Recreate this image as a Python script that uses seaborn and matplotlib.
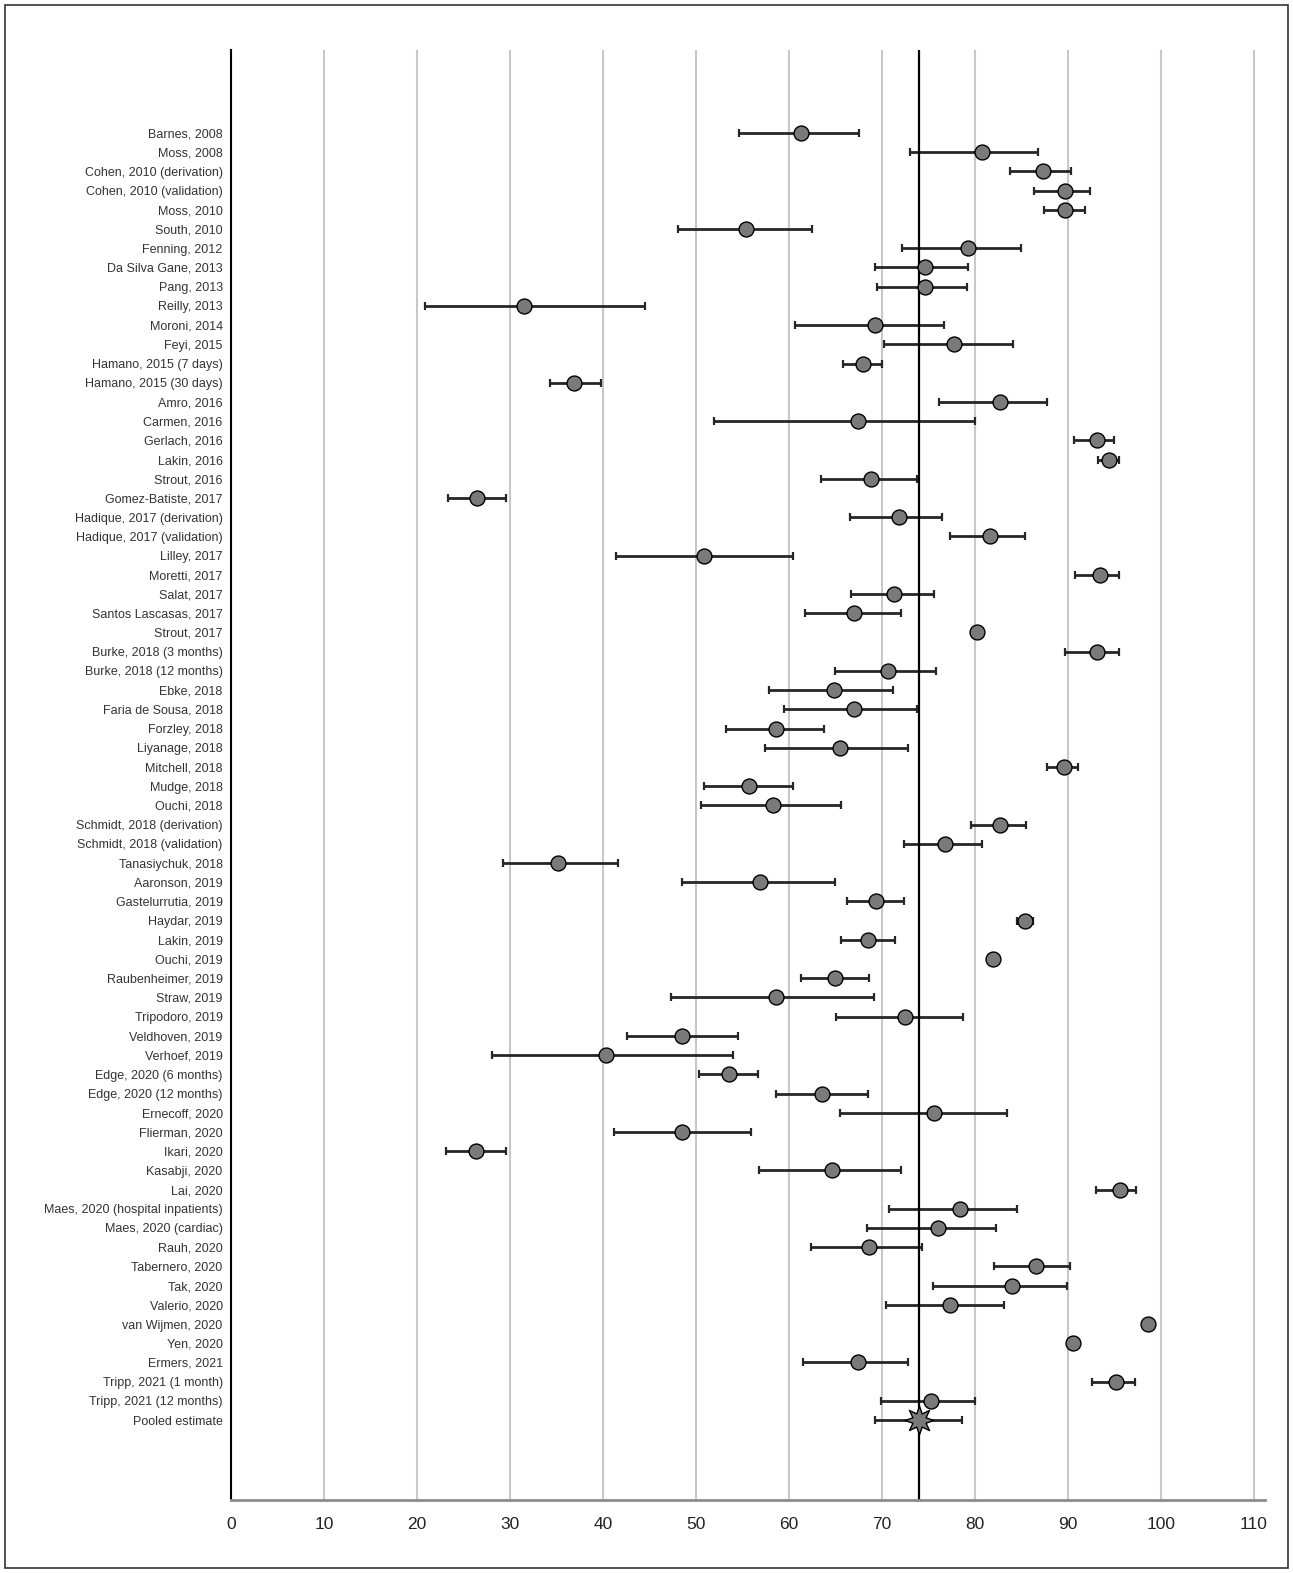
import matplotlib
matplotlib.use('Agg')
import matplotlib.pyplot as plt
import seaborn as sns
import pandas as pd
from matplotlib.patches import Rectangle

# study labels, top to bottom
studies = [
    'Barnes, 2008', 'Moss, 2008', 'Cohen, 2010 (derivation)', 'Cohen, 2010 (validation)',
    'Moss, 2010', 'South, 2010', 'Fenning, 2012', 'Da Silva Gane, 2013', 'Pang, 2013',
    'Reilly, 2013', 'Moroni, 2014', 'Feyi, 2015', 'Hamano, 2015 (7 days)',
    'Hamano, 2015 (30 days)', 'Amro, 2016', 'Carmen, 2016', 'Gerlach, 2016', 'Lakin, 2016',
    'Strout, 2016', 'Gomez-Batiste, 2017', 'Hadique, 2017 (derivation)',
    'Hadique, 2017 (validation)', 'Lilley, 2017', 'Moretti, 2017', 'Salat, 2017',
    'Santos Lascasas, 2017', 'Strout, 2017', 'Burke, 2018 (3 months)',
    'Burke, 2018 (12 months)', 'Ebke, 2018', 'Faria de Sousa, 2018', 'Forzley, 2018',
    'Liyanage, 2018', 'Mitchell, 2018', 'Mudge, 2018', 'Ouchi, 2018',
    'Schmidt, 2018 (derivation)', 'Schmidt, 2018 (validation)', 'Tanasiychuk, 2018',
    'Aaronson, 2019', 'Gastelurrutia, 2019', 'Haydar, 2019', 'Lakin, 2019', 'Ouchi, 2019',
    'Raubenheimer, 2019', 'Straw, 2019', 'Tripodoro, 2019', 'Veldhoven, 2019',
    'Verhoef, 2019', 'Edge, 2020 (6 months)', 'Edge, 2020 (12 months)', 'Ernecoff, 2020',
    'Flierman, 2020', 'Ikari, 2020', 'Kasabji, 2020', 'Lai, 2020',
    'Maes, 2020 (hospital inpatients)', 'Maes, 2020 (cardiac)', 'Rauh, 2020',
    'Tabernero, 2020', 'Tak, 2020', 'Valerio, 2020', 'van Wijmen, 2020', 'Yen, 2020',
    'Ermers, 2021', 'Tripp, 2021 (1 month)', 'Tripp, 2021 (12 months)',
]

estimate = [
    61.3, 80.8, 87.3, 89.7, 89.7, 55.4, 79.3, 74.6, 74.6, 31.5, 69.2, 77.8, 68.0, 36.9,
    82.7, 67.4, 93.1, 94.4, 68.8, 26.4, 71.8, 81.6, 50.9, 93.5, 71.3, 67.0, 80.2, 93.1,
    70.6, 64.8, 67.0, 58.6, 65.5, 89.6, 55.7, 58.3, 82.7, 76.8, 35.2, 56.9, 69.4, 85.4,
    68.5, 81.9, 65.0, 58.6, 72.5, 48.5, 40.3, 53.5, 63.6, 75.6, 48.5, 26.3, 64.6, 95.6,
    78.4, 76.0, 68.6, 86.6, 84.0, 77.3, 98.6, 90.5, 67.4, 95.2, 75.3,
]

ci_low = [
    54.6, 73.0, 83.8, 86.3, 87.4, 48.1, 72.2, 69.2, 69.5, 20.9, 60.7, 70.2, 65.8, 34.3,
    76.1, 51.9, 90.7, 93.2, 63.4, 23.3, 66.6, 77.3, 41.4, 90.8, 66.7, 61.7, 79.8, 89.7,
    65.0, 57.9, 59.5, 53.2, 57.4, 87.8, 50.9, 50.5, 79.6, 72.4, 29.2, 48.5, 66.2, 84.5,
    65.6, 81.9, 61.3, 47.3, 65.1, 42.6, 28.1, 50.3, 58.6, 65.5, 41.2, 23.1, 56.8, 93.0,
    70.8, 68.4, 62.4, 82.0, 75.5, 70.4, 98.6, 90.5, 61.5, 92.6, 69.9,
]

ci_high = [
    67.5, 86.8, 90.3, 92.4, 91.8, 62.5, 85.0, 79.3, 79.1, 44.5, 76.7, 84.1, 70.0, 39.8,
    87.7, 80.0, 95.0, 95.5, 73.8, 29.6, 76.5, 85.4, 60.4, 95.5, 75.6, 72.1, 80.7, 95.5,
    75.8, 71.2, 73.8, 63.8, 72.8, 91.1, 60.4, 65.6, 85.5, 80.8, 41.6, 64.9, 72.4, 86.2,
    71.4, 81.9, 68.6, 69.1, 78.7, 54.5, 54.0, 56.7, 68.5, 83.4, 55.9, 29.6, 72.0, 97.3,
    84.5, 82.3, 74.3, 90.2, 89.9, 83.1, 98.6, 90.5, 72.8, 97.2, 80.0,
]

pooled_label = 'Pooled estimate'
pooled_estimate = 74.0
pooled_low = 69.3
pooled_high = 78.6

sns.set_style('white')
plt.rcParams['font.family'] = ['Liberation Sans', 'DejaVu Sans']

df = pd.DataFrame({'study': studies, 'est': estimate, 'lo': ci_low, 'hi': ci_high})
df['row'] = range(len(df))
pooled_row = len(df)
pooled = pd.DataFrame({'est': [pooled_estimate], 'lo': [pooled_low],
                       'hi': [pooled_high], 'row': [pooled_row]})

fig = plt.figure(figsize=(12.93, 15.73), dpi=100)
ax = fig.add_axes([0.1787, 0.0464, 0.7997, 0.9218])

# grid + pooled reference line
ax.set_xticks(range(0, 111, 10))
ax.xaxis.grid(True, color='#c8c8c8', lw=1.5, zorder=0)
ax.axvline(pooled_estimate, color='black', lw=1.6, zorder=2.5)

for d in (df, pooled):
    ax.errorbar(d['est'], d['row'], xerr=[d['est'] - d['lo'], d['hi'] - d['est']],
                fmt='none', ecolor='#262626', elinewidth=2, capsize=3, capthick=1.6,
                zorder=2)

sns.scatterplot(data=df, x='est', y='row', s=115, color='#7a7a7a',
                edgecolor='black', linewidth=1, zorder=3, ax=ax, legend=False)
sns.scatterplot(data=pooled, x='est', y='row', marker=(8, 1, 0), s=420,
                color='#7a7a7a', edgecolor='black', linewidth=1, zorder=3, ax=ax,
                legend=False)

ax.set_xlim(0, 111.2)
ax.set_ylim(71.16, -4.32)
ax.set_yticks(range(pooled_row + 1))
ax.set_yticklabels(studies + [pooled_label], fontsize=9, color='#333333')
ax.tick_params(axis='y', length=0, pad=6)
ax.tick_params(axis='x', length=0, pad=12, labelsize=12.5, labelcolor='#222222')
ax.set_xlabel('')
ax.set_ylabel('')

for side in ('top', 'right'):
    ax.spines[side].set_visible(False)
ax.spines['left'].set_color('black')
ax.spines['left'].set_linewidth(1.5)
ax.spines['bottom'].set_color('#8c8c8c')
ax.spines['bottom'].set_linewidth(2)

# thin frame around the whole picture
fig.add_artist(Rectangle((5 / 1293, 5 / 1573), 1283 / 1293, 1563 / 1573,
                         transform=fig.transFigure, fill=False,
                         edgecolor='#333333', lw=1.2))

fig.savefig('out.png', dpi=100)
